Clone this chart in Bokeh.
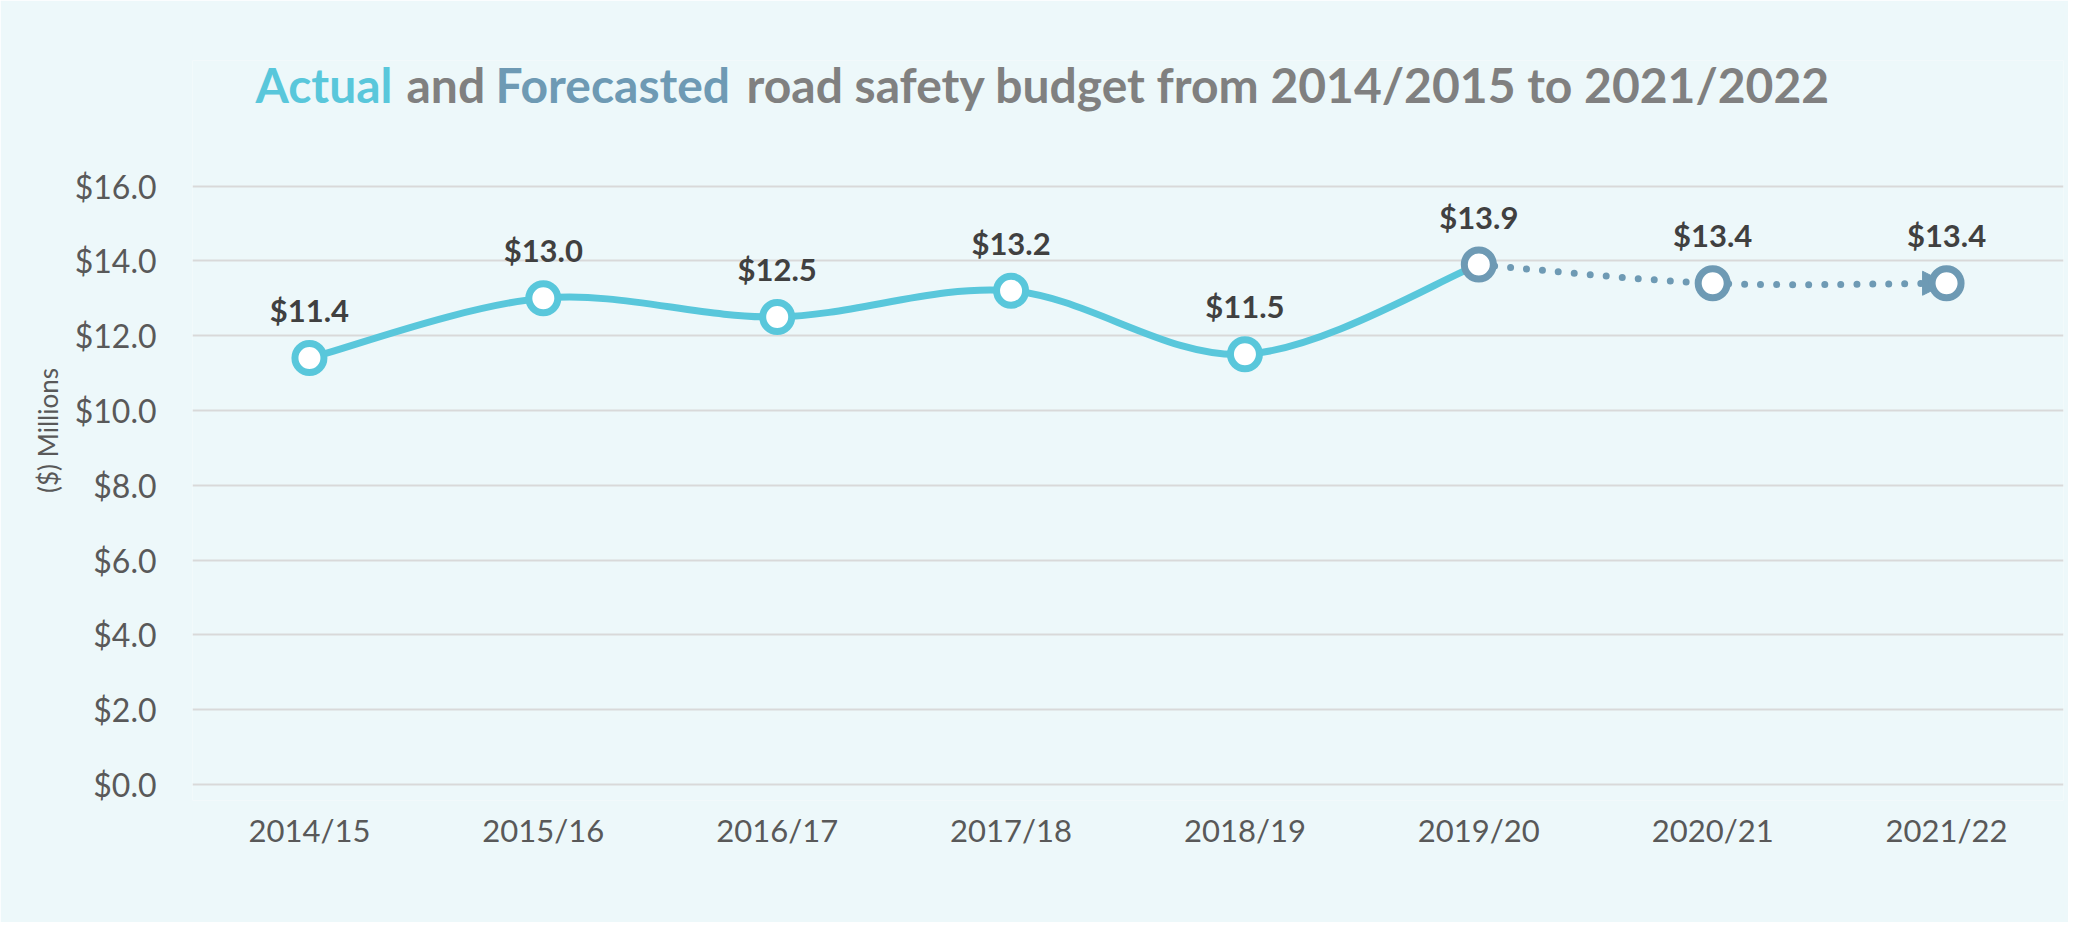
import math
from bokeh.plotting import figure
from bokeh.models import (ColumnDataSource, LabelSet, FixedTicker, Range1d,
                          Arrow, NormalHead, NumeralTickFormatter)
from bokeh.core.properties import value
from bokeh.embed import file_html
from bokeh.resources import INLINE

# ---------------- data ----------------
categories = ["2014/15", "2015/16", "2016/17", "2017/18", "2018/19", "2019/20", "2020/21", "2021/22"]
actual_categories = ["2014/15", "2015/16", "2016/17", "2017/18", "2018/19", "2019/20"]
actual_values = [11.4, 13.0, 12.5, 13.2, 11.5, 13.9]
forecast_categories = ["2019/20", "2020/21", "2021/22"]
forecast_values = [13.9, 13.4, 13.4]
y_ticks = [0, 2, 4, 6, 8, 10, 12, 14, 16]
title_parts = ["Actual", "and", "Forecasted", "road safety budget from 2014/2015 to 2021/2022"]

# ---------------- style / layout ----------------
BG = "#EDF8FA"
C_ACT = "#59C7DB"
C_FC = "#6E9AB4"
C_GREY = "#808080"
C_TICK = "#595959"
C_LBL = "#404040"
FONT = "Lato"

W, H = 2068, 922
FR_L, FR_R, FR_T, FR_B = 192, 2063, 60, 800      # frame edges (px)
Y0_PX, Y16_PX = 784, 185.5                       # gridline positions (px)
PX_PER_UNIT = (Y0_PX - Y16_PX) / 16.0
y_lo = -(FR_B - Y0_PX) / PX_PER_UNIT
y_hi = (Y0_PX - FR_T) / PX_PER_UNIT
n = len(categories)
x_lo, x_hi = -0.5, n - 0.5


def px_x(px):
    return x_lo + (px - FR_L) * (x_hi - x_lo) / (FR_R - FR_L)


def px_y(py):
    return (Y0_PX - py) / PX_PER_UNIT


idx = {c: i for i, c in enumerate(categories)}
ax = [idx[c] for c in actual_categories]
fx = [idx[c] for c in forecast_categories]


def catmull_bezier(xs, ys):
    m = len(xs)
    out = dict(x0=[], y0=[], x1=[], y1=[], cx0=[], cy0=[], cx1=[], cy1=[])
    for i in range(m - 1):
        xm, ym = (xs[i - 1], ys[i - 1]) if i > 0 else (xs[i], ys[i])
        xp, yp = (xs[i + 2], ys[i + 2]) if i + 2 < m else (xs[i + 1], ys[i + 1])
        out["x0"].append(xs[i]); out["y0"].append(ys[i])
        out["x1"].append(xs[i + 1]); out["y1"].append(ys[i + 1])
        out["cx0"].append(xs[i] + (xs[i + 1] - xm) / 6.0)
        out["cy0"].append(ys[i] + (ys[i + 1] - ym) / 6.0)
        out["cx1"].append(xs[i + 1] - (xp - xs[i]) / 6.0)
        out["cy1"].append(ys[i + 1] - (yp - ys[i]) / 6.0)
    return out


p = figure(width=W, height=H, output_backend="svg", toolbar_location=None,
           x_range=Range1d(x_lo, x_hi), y_range=Range1d(y_lo, y_hi),
           min_border_left=FR_L, min_border_right=W - FR_R,
           min_border_top=FR_T, min_border_bottom=H - FR_B)
p.background_fill_color = BG
p.border_fill_color = BG
p.outline_line_color = None
p.xgrid.visible = False
p.ygrid.grid_line_color = "#D9D9D9"
p.ygrid.grid_line_width = 2

# axes
p.yaxis.ticker = FixedTicker(ticks=y_ticks)
p.yaxis.formatter = NumeralTickFormatter(format="$0.0")
p.xaxis.ticker = FixedTicker(ticks=list(range(n)))
p.xaxis.major_label_overrides = {i: c for i, c in enumerate(categories)}
for a in (p.xaxis[0], p.yaxis[0]):
    a.axis_line_color = None
    a.major_tick_line_color = None
    a.minor_tick_line_color = None
    a.major_label_text_font = FONT
    a.major_label_text_color = C_TICK
p.yaxis.major_label_text_font_size = "32px"
p.xaxis.major_label_text_font_size = "31px"
p.yaxis.major_label_standoff = 30
p.xaxis.major_label_standoff = 4
p.yaxis.axis_label = "($) Millions"
p.yaxis.axis_label_text_font = FONT
p.yaxis.axis_label_text_font_style = "normal"
p.yaxis.axis_label_text_font_size = "26px"
p.yaxis.axis_label_text_color = C_TICK
p.yaxis.axis_label_standoff = 8

# lines
act = catmull_bezier(ax, actual_values)
p.bezier(source=ColumnDataSource(act), x0="x0", y0="y0", x1="x1", y1="y1",
         cx0="cx0", cy0="cy0", cx1="cx1", cy1="cy1",
         line_color=C_ACT, line_width=7, line_cap="round")
fc = catmull_bezier(fx, forecast_values)
p.bezier(source=ColumnDataSource(fc), x0="x0", y0="y0", x1="x1", y1="y1",
         cx0="cx0", cy0="cy0", cx1="cx1", cy1="cy1",
         line_color=C_FC, line_width=7, line_dash="0 16", line_cap="round")

arrow = Arrow(x_start=fx[-2], y_start=forecast_values[-2], x_end=fx[-1], y_end=forecast_values[-1],
              line_alpha=0, level="underlay",
              end=NormalHead(size=24, fill_color=C_FC, line_color=C_FC))
p.add_layout(arrow)

# markers
p.scatter(ax[:-1], actual_values[:-1], size=29, fill_color="white", line_color=C_ACT, line_width=7)
p.scatter(fx, forecast_values, size=29, fill_color="white", line_color=C_FC, line_width=7)

# data labels
lab_x = ax[:-1] + fx
lab_y = actual_values[:-1] + forecast_values
src = ColumnDataSource(dict(x=lab_x, y=lab_y, t=["$%.1f" % v for v in lab_y]))
p.add_layout(LabelSet(x="x", y="y", text="t", source=src, y_offset=36,
                      text_align="center", text_baseline="alphabetic",
                      text_font=value(FONT), text_font_style="bold",
                      text_font_size="31px", text_color=C_LBL))

# chart title (multi-coloured), drawn inside the frame
title_px = [255, 406, 495, 746]
title_cols = [C_ACT, C_GREY, C_FC, C_GREY]
tsrc = ColumnDataSource(dict(x=[px_x(v) for v in title_px], y=[px_y(83.7)] * 4,
                             t=title_parts, c=title_cols))
p.text(x="x", y="y", text="t", text_color="c", source=tsrc,
       text_align="left", text_baseline="alphabetic",
       text_font=value(FONT), text_font_style="bold", text_font_size="48px")

open("out.html", "w").write(file_html(p, INLINE))
